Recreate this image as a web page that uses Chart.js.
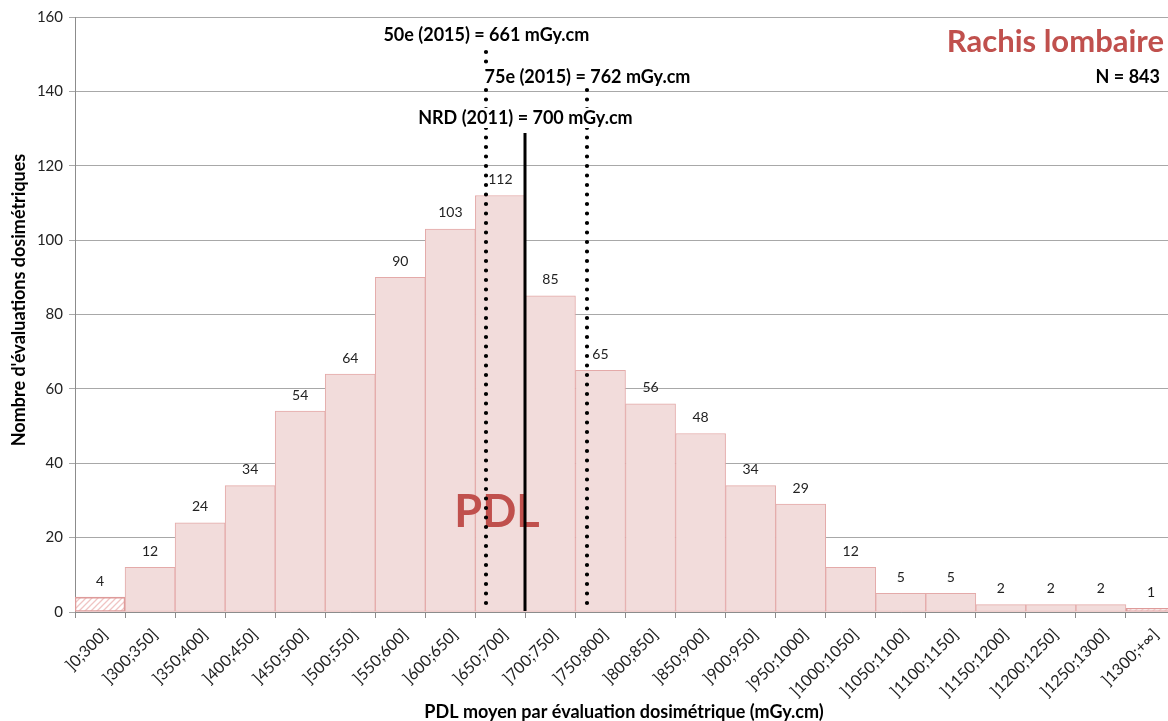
<!DOCTYPE html>
<html>
<head>
<meta charset="utf-8">
<script src="https://cdn.jsdelivr.net/npm/chart.js@4.4.1/dist/chart.umd.min.js"></script>
<style>
  html, body { margin: 0; padding: 0; background: #fff; width: 1168px; height: 721px; overflow: hidden; }
  #wrap { position: relative; width: 1176px; height: 721px; }
</style>
</head>
<body>
<div id="wrap"><canvas id="c" width="1176" height="721"></canvas></div>
<script>
// PDL classes (mGy.cm) and number of dosimetric evaluations per class
const categories = [']0;300]', ']300;350]', ']350;400]', ']400;450]', ']450;500]', ']500;550]',
  ']550;600]', ']600;650]', ']650;700]', ']700;750]', ']750;800]', ']800;850]', ']850;900]',
  ']900;950]', ']950;1000]', ']1000;1050]', ']1050;1100]', ']1100;1150]', ']1150;1200]',
  ']1200;1250]', ']1250;1300]', ']1300;+∞]'];
const counts = [4, 12, 24, 34, 54, 64, 90, 103, 112, 85, 65, 56, 48, 34, 29, 12, 5, 5, 2, 2, 2, 1];
const yTicks = [0, 20, 40, 60, 80, 100, 120, 140, 160];

// Reference levels drawn as vertical lines
const refNames = ['50e (2015)', '75e (2015)', 'NRD (2011)'];
const refValues = [661, 762, 700];
const refUnit = 'mGy.cm';

const exam = 'Rachis lombaire';
const total = 843;
const yTitle = "Nombre d'évaluations dosimétriques";
const xTitle = 'PDL moyen par évaluation dosimétrique (mGy.cm)';

const FONT = 'Lato, "Open Sans", "Liberation Sans", sans-serif';
const RED = '#c0504d';

// open-ended classes are hatched
const openEnded = i => i === 0 || i === categories.length - 1;

function hatch() {
  const p = document.createElement('canvas');
  p.width = 6; p.height = 6;
  const g = p.getContext('2d');
  g.fillStyle = '#ffffff';
  g.fillRect(0, 0, 6, 6);
  g.strokeStyle = '#f0c4c3';
  g.lineWidth = 1.3;
  g.beginPath();
  g.moveTo(-1, 7); g.lineTo(7, -1);
  g.moveTo(-4, 4); g.lineTo(4, -4);
  g.moveTo(2, 10); g.lineTo(10, 2);
  g.stroke();
  return g.createPattern(p, 'repeat');
}
const ctx = document.getElementById('c').getContext('2d');
const hatchFill = hatch();

// class boundaries are every 50 mGy.cm above 300; map a dose to a fractional category index
function doseToIndex(v) {
  return 0.5 + (v - 300) / 50;
}

const annotations = {
  id: 'annotations',
  afterDatasetsDraw(chart) {
    const c = chart.ctx;
    const xs = chart.scales.x;
    const area = chart.chartArea;
    const meta = chart.getDatasetMeta(0);
    c.save();

    // value labels above the bars
    c.font = '14px ' + FONT;
    c.fillStyle = '#222';
    c.textAlign = 'center';
    c.textBaseline = 'middle';
    meta.data.forEach((bar, i) => {
      c.fillText(String(counts[i]), bar.x, bar.y - 16);
    });

    // big "PDL" mark
    c.font = 'bold 45px ' + FONT;
    c.fillStyle = RED;
    c.textAlign = 'center';
    c.textBaseline = 'middle';
    c.fillText('PDL', 497, 512);

    // reference lines
    const lineTop = [52, 90, 133];
    const labelY = [35, 77, 118];
    refValues.forEach((v, k) => {
      const x = Math.round(xs.getPixelForValue(doseToIndex(v)));
      c.beginPath();
      c.strokeStyle = '#000';
      if (refNames[k].startsWith('NRD')) {
        c.setLineDash([]);
        c.lineWidth = 3;
        c.lineCap = 'butt';
      } else {
        c.setLineDash([0, 9.5]);
        c.lineWidth = 4.2;
        c.lineCap = 'round';
      }
      c.moveTo(x, lineTop[k]);
      c.lineTo(x, area.bottom - 1);
      c.stroke();
    });
    c.setLineDash([]);

    // reference labels on a white box, centred on their line
    c.font = 'bold 18px ' + FONT;
    c.textBaseline = 'middle';
    c.textAlign = 'center';
    refValues.forEach((v, k) => {
      const x = xs.getPixelForValue(doseToIndex(v));
      const txt = refNames[k] + ' = ' + v + ' ' + refUnit;
      const w = c.measureText(txt).width;
      c.fillStyle = '#fff';
      c.fillRect(x - w / 2 - 2, labelY[k] - 10, w + 4, 20);
      c.fillStyle = '#000';
      c.fillText(txt, x, labelY[k]);
    });

    // exam name and sample size
    c.textAlign = 'right';
    c.font = 'bold 31px ' + FONT;
    c.fillStyle = RED;
    c.fillText(exam, 1164, 42);
    c.font = 'bold 18px ' + FONT;
    c.fillStyle = '#000';
    c.fillText('N = ' + total, 1160, 77);

    // axis titles
    c.font = 'bold 18px ' + FONT;
    c.fillStyle = '#000';
    c.textAlign = 'center';
    c.fillText(xTitle, 624, 712);
    c.translate(19, 300);
    c.rotate(-Math.PI / 2);
    c.fillText(yTitle, 0, 0);
    c.restore();
  }
};

new Chart(ctx, {
  type: 'bar',
  data: {
    labels: categories,
    datasets: [{
      data: counts,
      backgroundColor: c => openEnded(c.dataIndex) ? hatchFill : '#f2dcdb',
      borderColor: c => openEnded(c.dataIndex) ? '#de9b9a' : '#e4aaa9',
      borderWidth: c => openEnded(c.dataIndex) ? 1.6 : 1,
      borderSkipped: false,
      barPercentage: 1,
      categoryPercentage: 1
    }]
  },
  options: {
    responsive: false,
    animation: false,
    events: [],
    layout: { padding: { top: 17, right: 0, bottom: 0, left: 0 } },
    plugins: { legend: { display: false }, tooltip: { enabled: false } },
    scales: {
      x: {
        offset: true,
        grid: { offset: true, drawOnChartArea: false, drawTicks: true, tickLength: 6, color: '#8c8c8c' },
        border: { color: '#8c8c8c' },
        ticks: { autoSkip: false, minRotation: 45, maxRotation: 45, padding: 7, labelOffset: 5,
                 font: { family: FONT, size: 16 }, color: '#222' },
        afterFit: s => { s.height = 109; }
      },
      y: {
        min: 0, max: 160,
        afterBuildTicks: s => { s.ticks = yTicks.map(v => ({ value: v })); },
        grid: { color: '#a8a8a8', tickLength: 6 },
        border: { color: '#8c8c8c' },
        ticks: { padding: 6, font: { family: FONT, size: 15 }, color: '#222' },
        afterFit: s => { s.width = 75; }
      }
    }
  },
  plugins: [annotations]
});
</script>
</body>
</html>
